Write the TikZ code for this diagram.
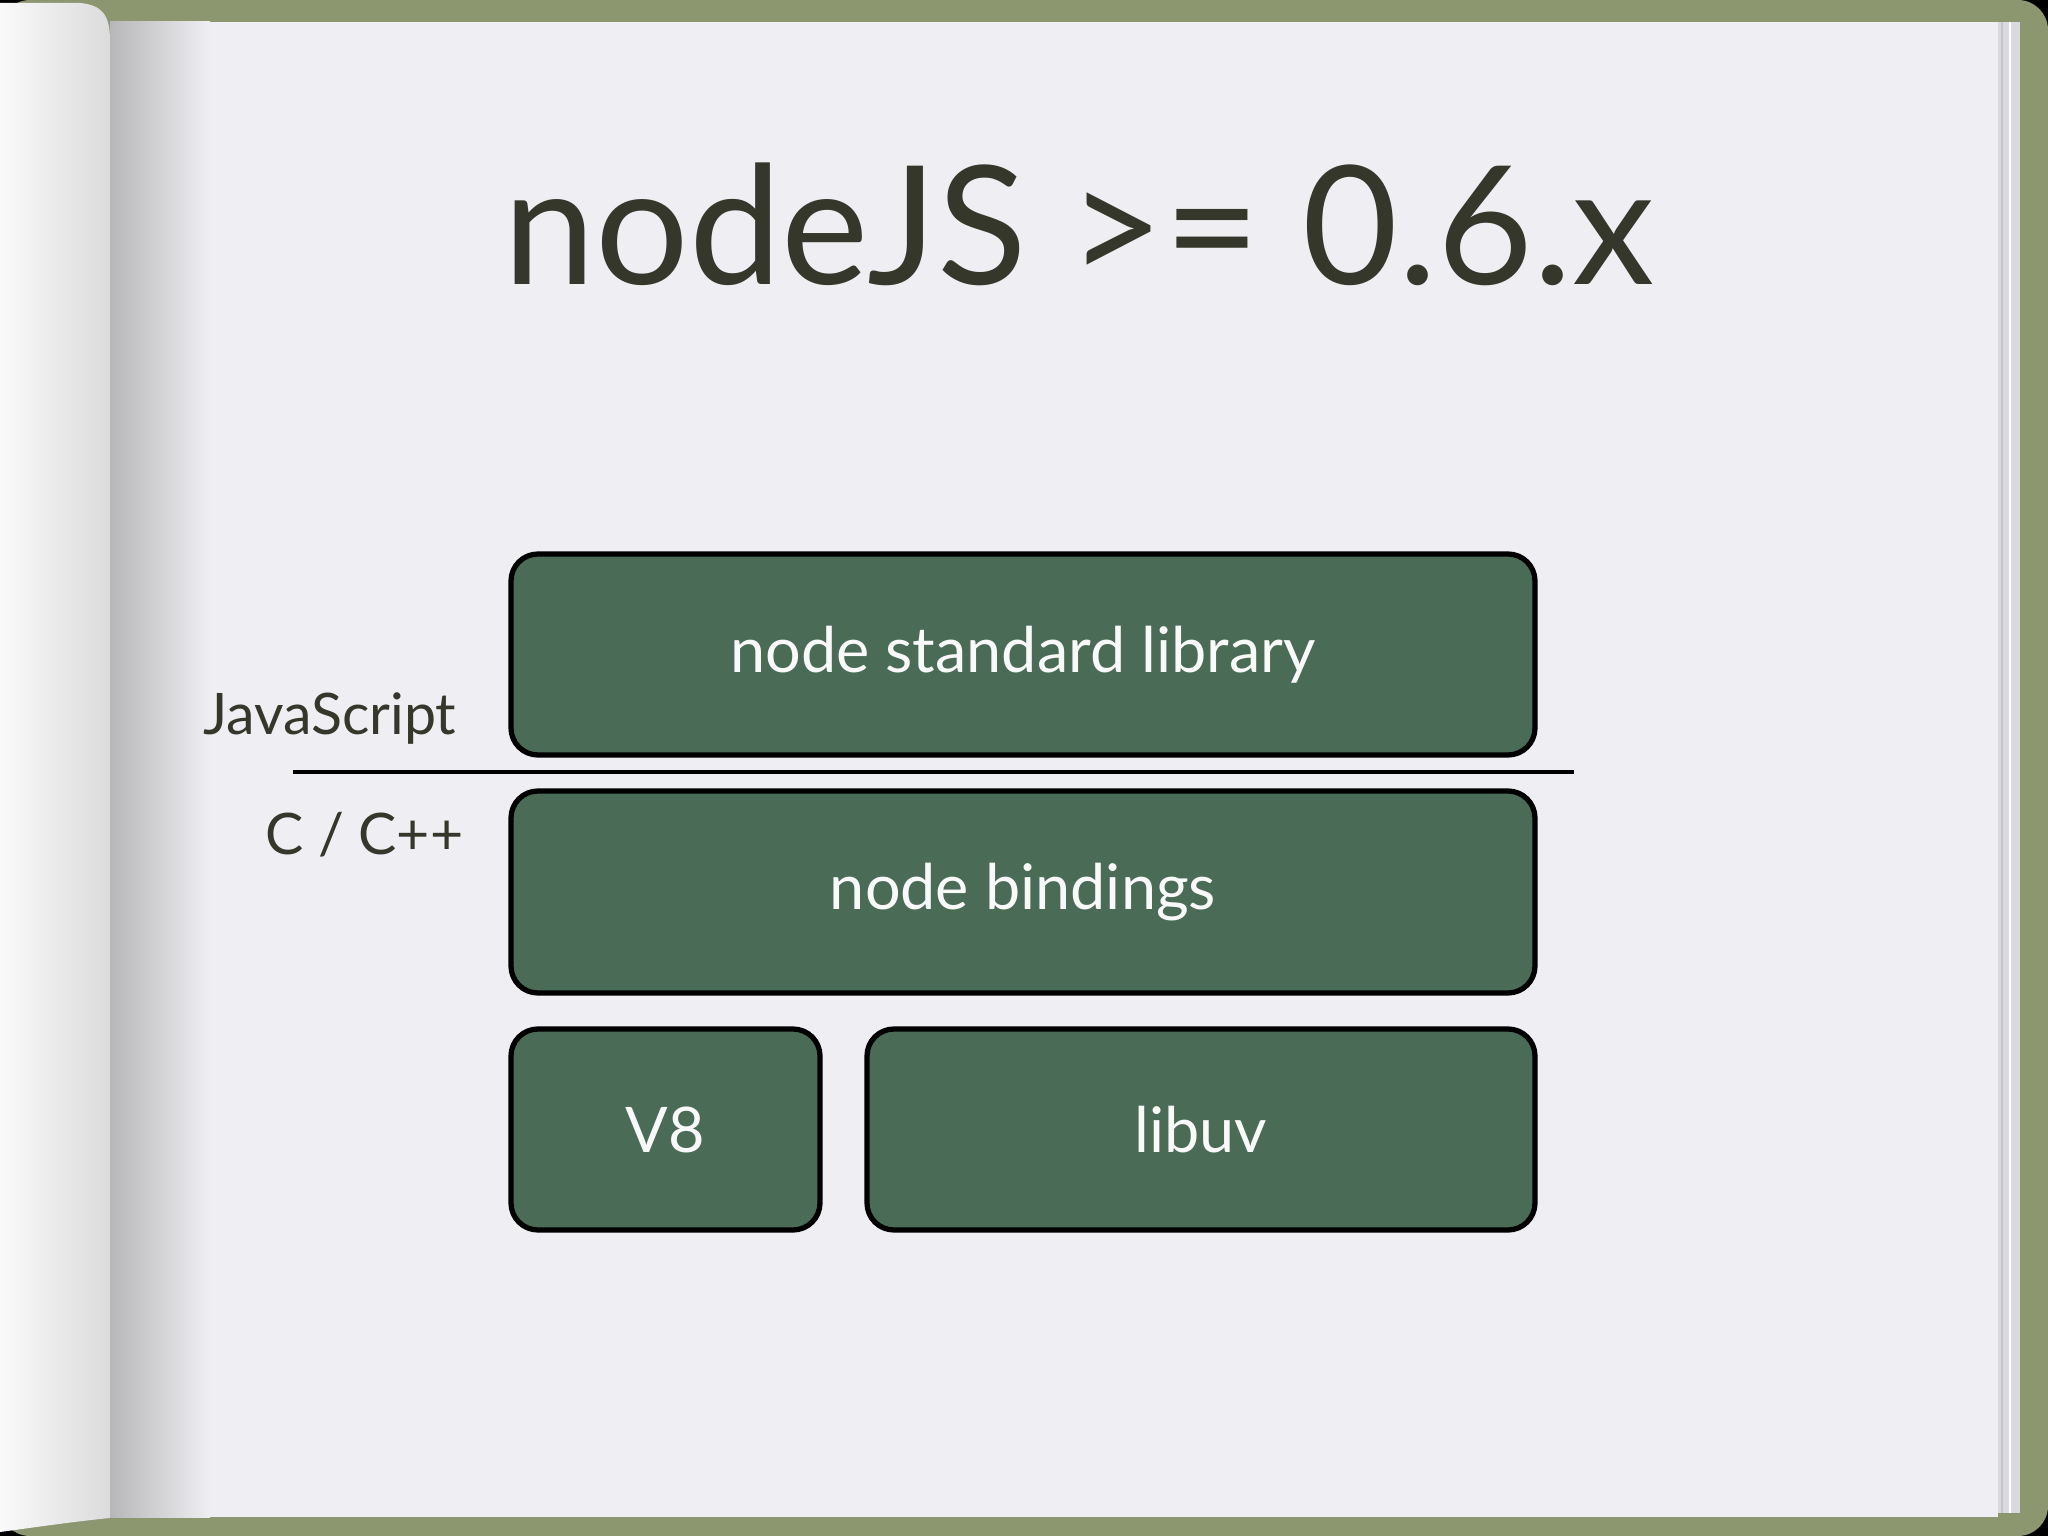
\documentclass[tikz,border=0pt]{standalone}
\usepackage{fontspec}
\setmainfont{Lato}
\usepackage{tikz}
\usetikzlibrary{positioning}
\usetikzlibrary{shapes}

\definecolor{bookgreen}{HTML}{8C9770}
\definecolor{pagegray}{HTML}{EFEFF3}
\definecolor{stackgray}{HTML}{D9D9DF}
\definecolor{layergreen}{HTML}{4A6C56}
\definecolor{inkolive}{HTML}{35372A}

\tikzset{
  layer/.style={draw=black, line width=1.5pt, fill=layergreen, rounded corners=0.27cm,
    text=white!95!gray, font=\fontsize{17.9}{21}\selectfont, inner sep=0pt},
  side/.style={text=inkolive, font=\fontsize{16.3}{19}\selectfont, inner sep=0pt}
}

\begin{document}
\begin{tikzpicture}
\useasboundingbox (0,0) rectangle (20.48,-15.36);
%background
\fill[black] (0,0) rectangle (20.48,-15.36);
\fill[bookgreen, rounded corners=0.3cm] (0,0) rectangle (20.48,-15.36);
%page
\fill[pagegray] (1.10,-0.22) rectangle (19.98,-15.17);
\shade[left color=gray!50!pagegray, right color=pagegray] (1.10,-0.22) rectangle (2.10,-15.17);
%page stack
\fill[stackgray] (19.98,-0.22) rectangle (20.20,-15.13);
\draw[gray!45, thin] (20.02,-0.22) -- (20.02,-15.13);
\draw[white, thin] (20.10,-0.22) -- (20.10,-15.13);
%curled left page
\shade[left color=white!96!gray, right color=gray!28] (0,-0.03) -- (0.80,-0.03)
  .. controls (1.02,-0.05) and (1.10,-0.15) .. (1.10,-0.40) -- (1.10,-15.18)
  .. controls (0.70,-15.22) and (0.30,-15.28) .. (0,-15.32) -- cycle;

%title
\node[text=inkolive, font=\fontsize{47}{56}\selectfont, anchor=base] (title) at (10.79,-2.85) {nodeJS >= 0.6.x};

%layers
\node[layer, minimum width=10.24cm, minimum height=2.01cm] (stdlib) at (10.23,-6.545) {node standard library};
\node[layer, minimum width=10.24cm, minimum height=2.02cm] (bindings) at (10.23,-8.92) {node bindings};
\node[layer, minimum width=3.09cm, minimum height=2.01cm] (veight) at (6.655,-11.295) {V8};
\node[layer, minimum width=6.68cm, minimum height=2.01cm] (libuv) at (12.01,-11.295) {libuv};

%divider
\draw[black, line width=1.1pt] (2.93,-7.72) -- (15.74,-7.72);
\node[side, anchor=base east] (js) at (4.57,-7.35) {JavaScript};
\node[side, anchor=base east] (cpp) at (4.64,-8.54) {C / C++};

\end{tikzpicture}
\end{document}
